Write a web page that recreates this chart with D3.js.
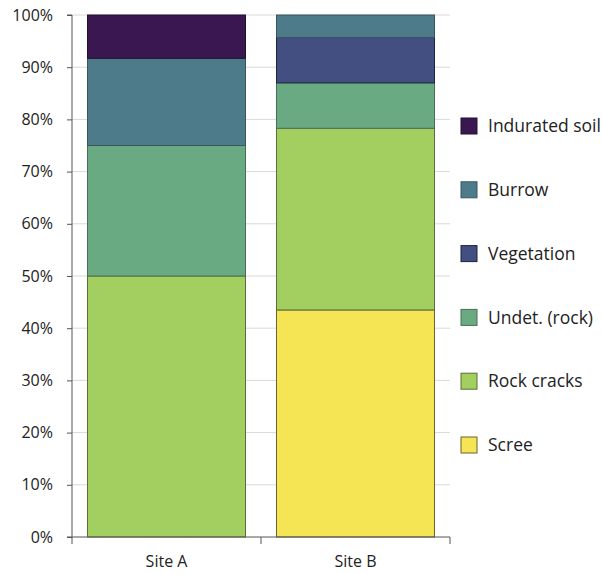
<!DOCTYPE html>
<html><head><meta charset="utf-8">
<script src="https://cdn.jsdelivr.net/npm/d3@7"></script>
<style>body{margin:0;background:#fff}svg{display:block}text{font-family:"Open Sans",sans-serif;fill:#222}</style>
</head><body><svg id="c" width="603" height="574"></svg>
<script>
const sites = ["Site A", "Site B"];
const seriesNames = ["Scree", "Rock cracks", "Undet. (rock)", "Vegetation", "Burrow", "Indurated soil"];
const scree        = [0, 43.5];
const rockCracks   = [50, 34.8];
const undetRock    = [25, 8.7];
const vegetation   = [0, 8.7];
const burrow       = [16.7, 4.3];
const induratedSoil= [8.3, 0];
const yTicks = [0,10,20,30,40,50,60,70,80,90,100];
const colors = ["#f5e454","#a2cf5f","#6aaa82","#424f80","#4e7b8a","#3b1751"];
const strokes = ["#6b6330","#5a6e3a","#4a6e55","#1c2440","#3a5560","#24102f"];

const seriesVals = [scree, rockCracks, undetRock, vegetation, burrow, induratedSoil];
const rows = sites.map((s,i)=>{const o={site:s}; seriesNames.forEach((n,k)=>o[n]=seriesVals[k][i]); return o;});
const stack = d3.stack().keys(seriesNames)(rows);

const svg = d3.select("#c");
const m = {l:72, r:450, t:15, b:537};
const x = d3.scaleBand().domain(sites).range([m.l, m.r]).paddingInner(0.164).paddingOuter(0.082);
const y = d3.scaleLinear().domain([0,100]).range([m.b, m.t]);

// gridlines
svg.append("g").selectAll("line").data(yTicks.filter(d=>d>0)).join("line")
  .attr("x1", m.l).attr("x2", m.r).attr("y1", d=>y(d)).attr("y2", d=>y(d))
  .attr("stroke", "#d9d9d9").attr("stroke-width", 1);

// bars
svg.append("g").selectAll("g").data(stack).join("g")
  .attr("fill", (d,i)=>colors[i]).attr("stroke",(d,i)=>strokes[i])
  .selectAll("rect").data(d=>d.filter(p=>p[1]-p[0]>0)).join("rect")
  .attr("x", d=>x(d.data.site)).attr("width", x.bandwidth())
  .attr("y", d=>y(d[1])).attr("height", d=>y(d[0])-y(d[1]))
  .attr("stroke-width", 1);

// y axis
const ya = svg.append("g").attr("transform", `translate(${m.l},0)`)
  .call(d3.axisLeft(y).tickValues(yTicks).tickFormat(d=>d+"%").tickSize(5).tickPadding(14));
ya.select(".domain").attr("stroke","#555").attr("d", `M-5,${m.b}H0V${m.t}H-5`);
ya.selectAll(".tick line").attr("stroke","#555");
ya.selectAll("text").style("font-size","16px").style("font-family","'Open Sans',sans-serif").attr("fill","#222");

// x axis
const xa = svg.append("g").attr("transform", `translate(0,${m.b})`);
xa.append("line").attr("x1", m.l).attr("x2", m.r).attr("stroke","#555");
const bounds = [m.l, (m.l+m.r)/2, m.r];
xa.selectAll(".tk").data(bounds).join("line").attr("class","tk")
  .attr("x1",d=>d).attr("x2",d=>d).attr("y1",0).attr("y2",7).attr("stroke","#555");
xa.selectAll("text").data(sites).join("text")
  .attr("x", d=>x(d)+x.bandwidth()/2).attr("y", 30).attr("text-anchor","middle")
  .style("font-size","16px").text(d=>d);

// legend
const legendOrder = seriesNames.slice().reverse();
const lg = svg.append("g");
const ly = d3.scalePoint().domain(legendOrder).range([126, 445]);
legendOrder.forEach(n=>{
  const i = seriesNames.indexOf(n);
  lg.append("rect").attr("x",461).attr("y",ly(n)-8).attr("width",16).attr("height",16)
    .attr("fill",colors[i]).attr("stroke",strokes[i]).attr("stroke-width",1);
  lg.append("text").attr("x",488).attr("y",ly(n)).attr("dy","0.35em")
    .style("font-size","17.5px").text(n);
});
</script></body></html>
